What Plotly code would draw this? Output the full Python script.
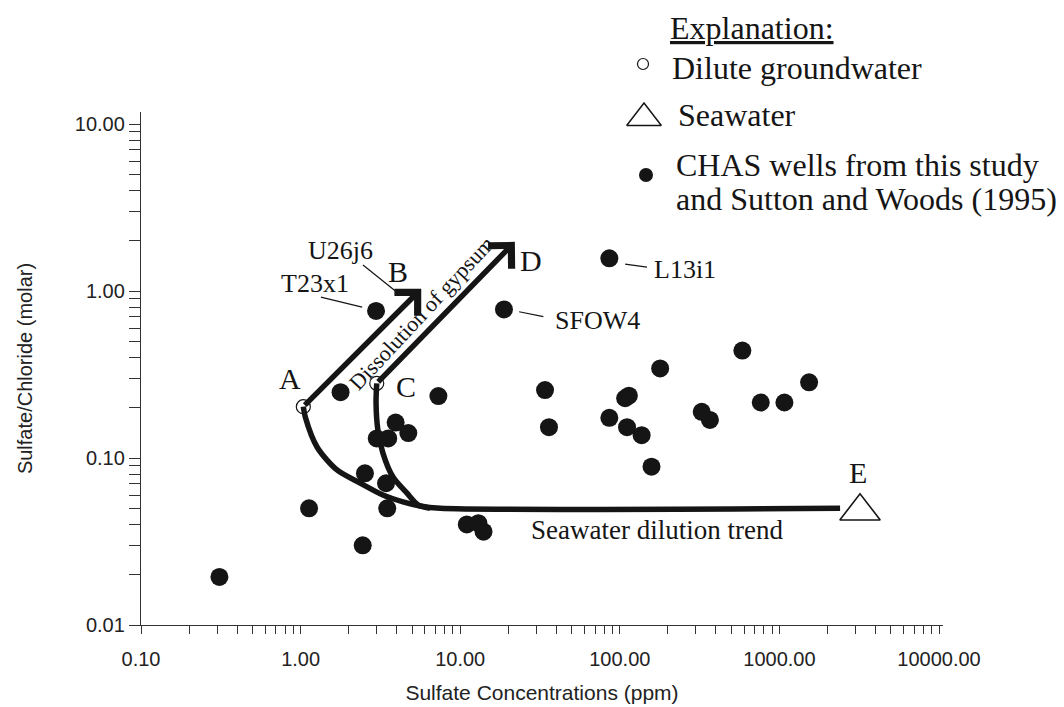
import numpy as np
import plotly.graph_objects as go

# ---------------- data ----------------
well_sulfate = [0.31, 1.13, 2.97, 1.78, 2.45, 7.3, 3.94, 4.73, 3.0, 3.54, 2.53, 3.43, 3.49,
                11.0, 13.0, 14.0, 86, 18.8, 586, 179, 34, 1535, 108, 114, 764, 1075, 36,
                86, 111, 137, 326, 367, 158]
well_ratio = [0.0194, 0.050, 0.76, 0.248, 0.030, 0.235, 0.163, 0.141, 0.131, 0.131, 0.081,
              0.0706, 0.050, 0.040, 0.0407, 0.0362, 1.57, 0.776, 0.44, 0.344, 0.255, 0.284,
              0.228, 0.236, 0.215, 0.215, 0.153, 0.174, 0.153, 0.137, 0.189, 0.169, 0.0887]

dilute_sulfate = [1.04, 3.0]
dilute_ratio = [0.203, 0.28]

seawater_sulfate = [3200]
seawater_ratio = [0.048]

# mixing curves toward seawater
curve_a_sulfate = [1.04, 1.07, 1.27, 1.69, 2.36, 3.28, 4.38, 5.6, 7.5, 2400]
curve_a_ratio = [0.203, 0.176, 0.116, 0.0848, 0.0708, 0.060, 0.0546, 0.0516, 0.050, 0.050]
curve_c_sulfate = [3.0, 2.97, 3.05, 3.28, 3.79, 4.64, 5.44, 6.47]
curve_c_ratio = [0.28, 0.213, 0.147, 0.107, 0.0769, 0.0616, 0.0524, 0.050]

# gypsum-dissolution arrows: start (sulfate, ratio) -> tip (sulfate, ratio)
arrow_start_sulfate = [1.04, 3.0]
arrow_start_ratio = [0.203, 0.28]
arrow_tip_sulfate = [5.7, 22.0]
arrow_tip_ratio = [1.03, 1.97]

# leader lines for labelled wells
leader_sulfate = [[1.34, 2.43], [2.46, 4.07], [108, 148], [23.4, 33.2]]
leader_ratio = [[0.92, 0.80], [1.43, 0.973], [1.45, 1.39], [0.751, 0.702]]

x_tick_labels = ["0.10", "1.00", "10.00", "100.00", "1000.00", "10000.00"]
y_tick_labels = ["0.01", "0.10", "1.00", "10.00"]

# ---------------- styles / layout helpers ----------------
INK = "#151515"
SERIF = "Liberation Serif, Times New Roman, serif"
SANS = "Liberation Sans, Arial, sans-serif"
W, H = 1064, 707
PAGE_OFFSET = 8  # default body margin of the html page


def fx(px):
    return (px - PAGE_OFFSET) / W


def fy(py):
    return 1 - (py - PAGE_OFFSET) / H


def log_ticks(first_exp, n_decades, labels):
    vals, texts = [], []
    for i in range(n_decades):
        for m in range(1, 10):
            vals.append(m * 10.0 ** (first_exp + i))
            texts.append(labels[i] if m == 1 else "")
    vals.append(10.0 ** (first_exp + n_decades))
    texts.append(labels[n_decades])
    return vals, texts


xt_vals, xt_text = log_ticks(-1, 5, x_tick_labels)
yt_vals, yt_text = log_ticks(-2, 3, y_tick_labels)

fig = go.Figure()

line_style = dict(color=INK, width=5.5, shape="spline", smoothing=0.8)
fig.add_trace(go.Scatter(x=curve_a_sulfate, y=curve_a_ratio, mode="lines",
                         line=line_style, hoverinfo="skip", showlegend=False))
fig.add_trace(go.Scatter(x=curve_c_sulfate, y=curve_c_ratio, mode="lines",
                         line=line_style, hoverinfo="skip", showlegend=False))

for lx, ly in zip(leader_sulfate, leader_ratio):
    fig.add_trace(go.Scatter(x=lx, y=ly, mode="lines", line=dict(color=INK, width=1.2),
                             hoverinfo="skip", showlegend=False))

fig.add_trace(go.Scatter(x=well_sulfate, y=well_ratio, mode="markers",
                         marker=dict(symbol="circle", size=18, color=INK, line=dict(width=0)),
                         name="CHAS wells", showlegend=False))
fig.add_trace(go.Scatter(x=dilute_sulfate, y=dilute_ratio, mode="markers",
                         marker=dict(symbol="circle-open", size=14, color=INK, line=dict(width=1.2)),
                         name="Dilute groundwater", showlegend=False))
fig.add_trace(go.Scatter(x=seawater_sulfate, y=seawater_ratio, mode="markers",
                         marker=dict(symbol="triangle-up-open", size=35, color=INK, line=dict(width=1.6)),
                         name="Seawater", showlegend=False))

# arrows (gypsum dissolution)
for x0, y0, x1, y1 in zip(arrow_start_sulfate, arrow_start_ratio, arrow_tip_sulfate, arrow_tip_ratio):
    fig.add_annotation(x=np.log10(x1), y=np.log10(y1), ax=np.log10(x0), ay=np.log10(y0),
                       xref="x", yref="y", axref="x", ayref="y", text="", showarrow=True,
                       arrowhead=4, arrowsize=1.15, arrowwidth=5.5, arrowcolor=INK)

# in-plot text labels: (text, sulfate, ratio, size, angle)
labels = [
    ("A", 0.858, 0.301, 30, 0),
    ("B", 4.09, 1.31, 30, 0),
    ("C", 4.55, 0.267, 30, 0),
    ("D", 27.7, 1.53, 30, 0),
    ("E", 3105, 0.0824, 30, 0),
    ("T23x1", 1.23, 1.11, 26, 0),
    ("U26j6", 1.79, 1.74, 26, 0),
    ("L13i1", 256, 1.34, 26, 0),
    ("SFOW4", 72.3, 0.663, 26, 0),
    ("Seawater dilution trend", 172, 0.037, 27, 0),
    ("Dissolution of gypsum", 5.68, 0.738, 22, -47),
]
for txt, lx, ly, fs, ang in labels:
    fig.add_annotation(x=np.log10(lx), y=np.log10(ly), xref="x", yref="y", text=txt,
                       showarrow=False, textangle=ang, xanchor="center", yanchor="middle",
                       font=dict(family=SERIF, size=fs, color=INK))

# explanation (key) in the upper right, drawn on a page-spanning overlay axis pair
key_items = [
    # symbol, size, line width, px, py
    ("circle-open", 11, 1.2, 643, 64),
    ("triangle-up-open", 30, 1.5, 644, 118),
    ("circle", 14, 0, 646, 175),
]
for sym, sz, lw, px, py in key_items:
    fig.add_trace(go.Scatter(x=[fx(px)], y=[fy(py)], xaxis="x2", yaxis="y2", mode="markers",
                             marker=dict(symbol=sym, size=sz, color=INK, opacity=1,
                                         line=dict(width=lw, color=INK)),
                             hoverinfo="skip", showlegend=False))

key_texts = [
    ("<u>Explanation:</u>", 752, 28, "center"),
    ("Dilute groundwater", 670, 68, "left"),
    ("Seawater", 676, 115, "left"),
    ("CHAS wells from this study", 674, 165, "left"),
    ("and Sutton and Woods (1995)", 674, 199, "left"),
]
for txt, px, py, xa in key_texts:
    fig.add_annotation(x=fx(px), y=fy(py), xref="paper", yref="paper", text=txt,
                       showarrow=False, xanchor=xa, yanchor="middle",
                       font=dict(family=SERIF, size=32, color=INK))

axis_common = dict(type="log", showgrid=False, zeroline=False, showline=True,
                   linecolor="#333", linewidth=1.3, ticks="outside", tickcolor="#333",
                   tickwidth=1.2, tickfont=dict(family=SANS, size=20, color="#222"),
                   tickmode="array", automargin=False)

fig.update_layout(
    width=W, height=H,
    margin=dict(l=0, r=0, t=0, b=0),
    paper_bgcolor="white", plot_bgcolor="rgba(0,0,0,0)",
    showlegend=False,
    xaxis=dict(axis_common, domain=[fx(141), fx(943)], range=[-1, 4.025],
               tickvals=xt_vals, ticktext=xt_text, ticklen=8, ticklabelstandoff=8,
               title=dict(text="Sulfate Concentrations (ppm)", standoff=16,
                          font=dict(family=SANS, size=21, color="#222"))),
    yaxis=dict(axis_common, domain=[fy(625), fy(112)], range=[-2, 1.072],
               tickvals=yt_vals, ticktext=yt_text, ticklen=11,
               title=dict(text="Sulfate/Chloride (molar)", standoff=36,
                          font=dict(family=SANS, size=20, color="#222"))),
    xaxis2=dict(domain=[0, 1], range=[0, 1], visible=False, anchor="y2", fixedrange=True),
    yaxis2=dict(domain=[0, 1], range=[0, 1], visible=False, anchor="x2", fixedrange=True),
)

fig.write_html("out.html")
